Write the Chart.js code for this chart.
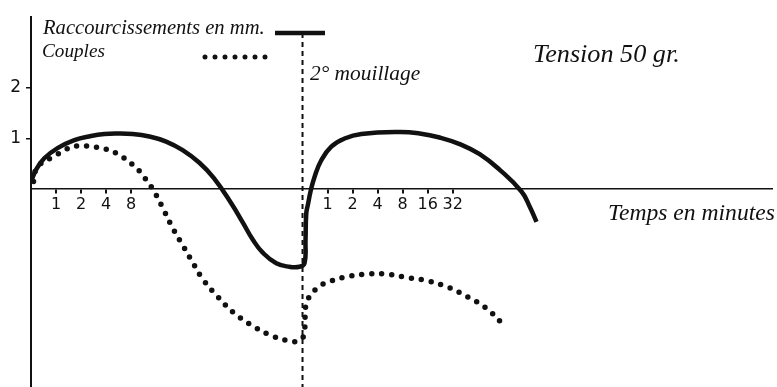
<!DOCTYPE html>
<html>
<head>
<meta charset="utf-8">
<script src="https://cdn.jsdelivr.net/npm/chart.js@4.4.1/dist/chart.umd.min.js"></script>
<style>
html, body { margin: 0; padding: 0; background: #fff; }
#wrap { width: 777px; height: 387px; }
</style>
</head>
<body>
<div id="wrap"><canvas id="chart"></canvas></div>
<script>
// x is counted in time-scale divisions from the origin (1, 2, 4, 8 ... minutes are one division apart)
const secondWetting = 10.85;
const wettingLineY = [3.09, -3.92];
const xTickPos = [1, 2, 3, 4, 11.85, 12.85, 13.85, 14.85, 15.85, 16.85];
const xTickLabels = ['1', '2', '4', '8', '1', '2', '4', '8', '16', '32'];
const yTickPos = [1, 2];

// Raccourcissements en mm. (solid)
const shortX = [0, 0.2, 0.53, 1.06, 1.73, 2.4, 2.93, 3.4, 4.06, 4.73, 5.4, 6.06, 6.73, 7.3, 8.0, 8.46, 8.86, 9.26, 9.8, 10.33, 10.73, 10.93, 10.97, 11.0, 11.07, 11.17, 11.33, 11.6, 12.0, 12.53, 13.2, 14.73, 15.53, 16.33, 17.13, 17.93, 18.73, 19.6, 19.93, 20.2];
const shortY = [0.14, 0.38, 0.61, 0.81, 0.97, 1.05, 1.09, 1.1, 1.09, 1.04, 0.94, 0.77, 0.52, 0.22, -0.28, -0.66, -1.0, -1.26, -1.47, -1.54, -1.54, -1.47, -1.01, -0.48, -0.3, -0.05, 0.24, 0.57, 0.84, 1.0, 1.09, 1.13, 1.1, 1.02, 0.89, 0.69, 0.38, -0.05, -0.35, -0.65];

// Couples (dotted)
const coupleX = [0.1, 0.26, 1.0, 1.33, 1.8, 2.2, 2.6, 3.0, 3.4, 3.73, 4.06, 4.4, 4.66, 4.89, 5.29, 5.69, 6.13, 6.5, 6.89, 7.46, 8.1, 8.76, 9.5, 10.3, 10.66, 10.89, 10.96, 11.0, 11.2, 11.49, 11.82, 12.57, 13.33, 14.13, 15.0, 15.86, 16.69, 17.46, 18.17, 18.81];
const coupleY = [0.15, 0.44, 0.67, 0.77, 0.85, 0.85, 0.83, 0.79, 0.71, 0.61, 0.48, 0.32, 0.14, -0.02, -0.4, -0.8, -1.17, -1.49, -1.8, -2.13, -2.45, -2.68, -2.88, -3.01, -3.01, -2.91, -2.46, -2.26, -2.08, -1.94, -1.85, -1.74, -1.69, -1.68, -1.75, -1.82, -1.95, -2.14, -2.35, -2.65];

const ink = '#111';
const toPoints = (xs, ys) => xs.map((x, i) => ({ x: x, y: ys[i] }));

// handwritten notes and legend samples
const notes = {
    id: 'notes',
    afterDraw(chart) {
        const ctx = chart.ctx;
        ctx.save();
        ctx.fillStyle = ink;
        ctx.strokeStyle = ink;
        ctx.textBaseline = 'alphabetic';
        const write = (txt, x, y, w) => {
            ctx.font = 'italic 20px "Liberation Serif"';
            const size = 20 * w / ctx.measureText(txt).width;
            ctx.font = 'italic ' + size.toFixed(1) + 'px "Liberation Serif"';
            ctx.fillText(txt, x, y);
        };
        write('Raccourcissements en mm.', 43, 34, 222);
        write('Couples', 42, 57, 63);
        write('2° mouillage', 310, 80, 110);
        write('Tension 50 gr.', 533, 62, 147);
        write('Temps en minutes', 608, 220, 167);

        ctx.lineWidth = 4.5;
        ctx.beginPath();
        ctx.moveTo(275, 33);
        ctx.lineTo(325, 33);
        ctx.stroke();

        ctx.lineWidth = 5;
        ctx.lineCap = 'round';
        ctx.setLineDash([0, 10]);
        ctx.beginPath();
        ctx.moveTo(205, 57);
        ctx.lineTo(266, 57);
        ctx.stroke();
        ctx.restore();
    }
};

const ctx = document.getElementById('chart').getContext('2d');
const chart = new Chart(ctx, {
    type: 'line',
    data: {
        datasets: [{
            label: 'Raccourcissements en mm.',
            data: toPoints(shortX, shortY),
            borderColor: ink,
            borderWidth: 4.5,
            tension: 0.45,
            pointRadius: 0,
            fill: false
        }, {
            label: 'Couples',
            data: toPoints(coupleX, coupleY),
            borderColor: ink,
            borderWidth: 5.5,
            borderDash: [0, 10],
            borderCapStyle: 'round',
            tension: 0.4,
            pointRadius: 0,
            fill: false
        }, {
            label: '2° mouillage',
            data: toPoints([secondWetting, secondWetting], wettingLineY),
            borderColor: ink,
            borderWidth: 2,
            borderDash: [5, 4],
            pointRadius: 0,
            fill: false
        }]
    },
    options: {
        responsive: true,
        maintainAspectRatio: false,
        animation: false,
        layout: {
            padding: { left: 0, right: 5, top: 17, bottom: 0 }
        },
        plugins: {
            legend: { display: false },
            tooltip: { enabled: false }
        },
        scales: {
            x: {
                type: 'linear',
                position: { y: 0 },
                min: 0,
                max: 29.61,
                afterFit: function(axis) {
                    axis.height = 0;
                    axis.paddingLeft = 0;
                    axis.paddingRight = 0;
                    axis.paddingTop = 0;
                    axis.paddingBottom = 0;
                },
                afterBuildTicks: function(axis) {
                    axis.ticks = xTickPos.map(v => ({ value: v }));
                },
                ticks: {
                    color: ink,
                    font: { family: 'DejaVu Sans', size: 16 },
                    padding: 2,
                    maxRotation: 0,
                    autoSkip: false,
                    callback: function(value, index) {
                        return xTickLabels[index];
                    }
                },
                grid: {
                    drawOnChartArea: false,
                    color: ink,
                    tickLength: 4,
                    lineWidth: 2
                },
                border: { display: true, color: ink, width: 1.5 }
            },
            y: {
                type: 'linear',
                min: -3.92,
                max: 3.406,
                afterFit: function(axis) {
                    axis.width = 31;
                    axis.paddingTop = 0;
                    axis.paddingBottom = 0;
                },
                afterBuildTicks: function(axis) {
                    axis.ticks = yTickPos.map(v => ({ value: v }));
                },
                ticks: {
                    color: ink,
                    font: { family: 'DejaVu Sans', size: 17 },
                    padding: 5,
                    callback: function(value) {
                        return String(value);
                    }
                },
                grid: {
                    drawOnChartArea: false,
                    color: ink,
                    tickLength: 5,
                    lineWidth: 1.5
                },
                border: { display: true, color: ink, width: 2 }
            }
        }
    },
    plugins: [notes]
});
</script>
</body>
</html>
